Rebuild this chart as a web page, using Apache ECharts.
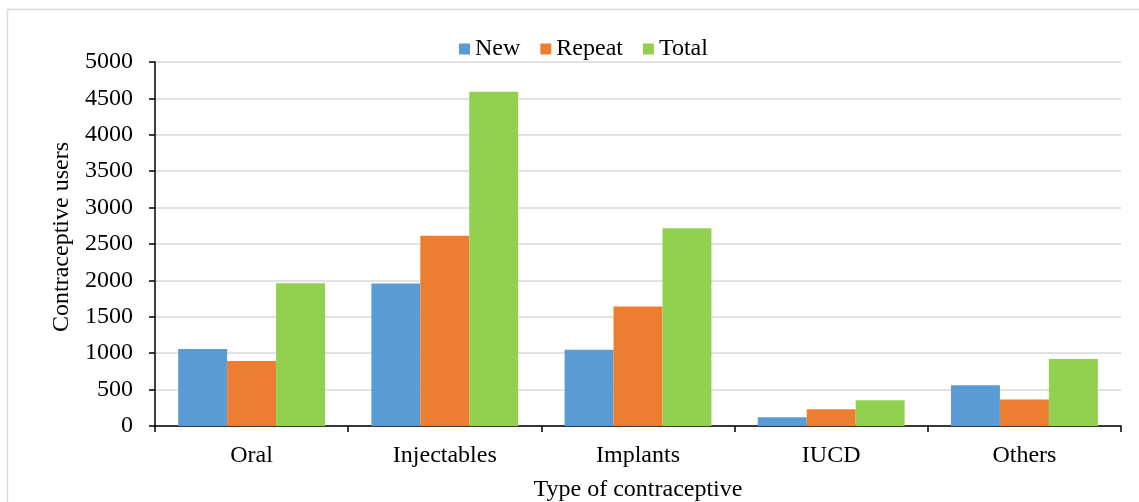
<!DOCTYPE html>
<html>
<head>
<meta charset="utf-8">
<title>Contraceptive users by type</title>
<script src="https://cdn.jsdelivr.net/npm/echarts@6/dist/echarts.min.js"></script>
<style>
  html, body { margin: 0; padding: 0; background: #ffffff; }
  #chart { width: 1139px; height: 502px; }
</style>
</head>
<body>
<div id="chart"></div>
<script>
// Contraceptive users per method, split by new / repeat clients
const categories = ['Oral', 'Injectables', 'Implants', 'IUCD', 'Others'];
const newUsers    = [1058, 1959, 1047, 120, 559];
const repeatUsers = [893, 2615, 1643, 229, 363];
const totalUsers  = [1960, 4592, 2716, 353, 922];
const seriesNames = ['New', 'Repeat', 'Total'];
const seriesColors = ['#5b9bd5', '#ed7d31', '#92d050'];

const FONT = '"Liberation Serif", "Times New Roman", serif';
const chart = echarts.init(document.getElementById('chart'), null, { renderer: 'canvas' });

const values = [newUsers, repeatUsers, totalUsers];

chart.setOption({
  animation: false,
  backgroundColor: '#ffffff',
  graphic: [{
    type: 'rect',
    shape: { x: 7.5, y: 9.5, width: 1200, height: 600 },
    style: { fill: 'none', stroke: '#d9d9d9', lineWidth: 1.5 },
    silent: true,
    z: -1
  }],
  legend: {
    left: 454,
    top: 32,
    itemWidth: 11,
    itemHeight: 11,
    itemGap: 20,
    icon: 'rect',
    textStyle: { fontFamily: FONT, fontSize: 24, color: '#000000' },
    data: seriesNames
  },
  grid: {
    left: 155, right: 18, top: 62, bottom: 76,
    containLabel: false,
    outerBoundsMode: 'none'
  },
  xAxis: {
    type: 'category',
    data: categories,
    name: 'Type of contraceptive',
    nameLocation: 'middle',
    nameGap: 52,
    nameTextStyle: { fontFamily: FONT, fontSize: 24, color: '#000000' },
    axisLine: { lineStyle: { color: '#000000', width: 1.5 } },
    axisTick: { show: true, length: 6, alignWithLabel: false, lineStyle: { color: '#000000', width: 1.5 } },
    axisLabel: { fontFamily: FONT, fontSize: 24, color: '#000000', margin: 18 }
  },
  yAxis: {
    type: 'value',
    min: 0,
    max: 5000,
    interval: 500,
    name: 'Contraceptive users',
    nameLocation: 'middle',
    nameGap: 71,
    nameTextStyle: { fontFamily: FONT, fontSize: 24, color: '#000000', padding: [0, 0, 0, 14] },
    axisLine: { show: true, lineStyle: { color: '#000000', width: 1.5 } },
    axisTick: { show: true, length: 6, lineStyle: { color: '#000000', width: 1.5 } },
    axisLabel: {
      fontFamily: FONT, fontSize: 24, color: '#000000', margin: 22,
      formatter: (v) => String(v)
    },
    splitLine: { show: true, lineStyle: { color: '#d9d9d9', width: 1.5 } }
  },
  series: seriesNames.map((name, i) => ({
    name: name,
    type: 'bar',
    data: values[i],
    barGap: '0%',
    barCategoryGap: '24%',
    itemStyle: { color: seriesColors[i] }
  }))
});
</script>
</body>
</html>
